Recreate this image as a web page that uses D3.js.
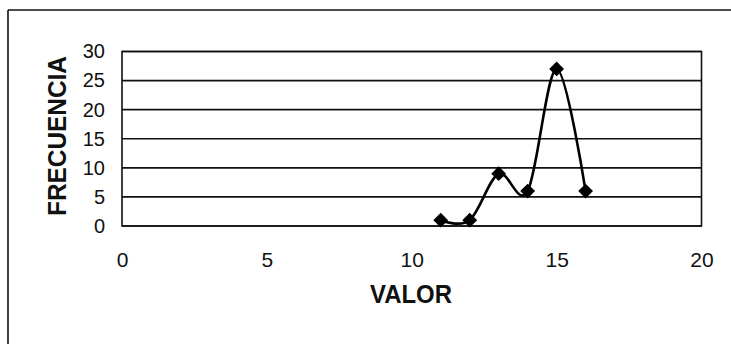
<!DOCTYPE html>
<html>
<head>
<meta charset="utf-8">
<script src="https://cdn.jsdelivr.net/npm/d3@7"></script>
<style>
  body { margin: 0; background: #fff; }
  svg { display: block; font-family: Arial, "Liberation Sans", sans-serif; }
</style>
</head>
<body>
<div id="chart-area"></div>
<script>

// Data
var valores = [11, 12, 13, 14, 15, 16];
var frecuencias = [1, 1, 9, 6, 27, 6];
var xTicks = [0, 5, 10, 15, 20];
var yTicks = [0, 5, 10, 15, 20, 25, 30];

// SVG Size
var width = 731,
		height = 344;

var svg = d3.select("#chart-area").append("svg")
		.attr("width", width)
		.attr("height", height);

// Outer frame (top and left edges only)
svg.append("line")
	.attr("x1", 8).attr("y1", 10).attr("x2", width).attr("y2", 10)
	.attr("stroke", "#111").attr("stroke-width", 1.6);
svg.append("line")
	.attr("x1", 8).attr("y1", 10).attr("x2", 8).attr("y2", height)
	.attr("stroke", "#111").attr("stroke-width", 1.6);

// Plot area
var plotLeft = 122, plotRight = 701.5, plotTop = 51.5, plotBottom = 226;

var x = d3.scaleLinear().domain([0, 20]).range([plotLeft, plotRight]);
var y = d3.scaleLinear().domain([0, 30]).range([plotBottom, plotTop]);

// Gridlines
svg.selectAll(".grid")
	.data(yTicks)
	.enter()
	.append("line")
	.attr("class", "grid")
	.attr("x1", plotLeft).attr("x2", plotRight)
	.attr("y1", function(d){ return y(d); })
	.attr("y2", function(d){ return y(d); })
	.attr("stroke", "#111")
	.attr("stroke-width", 1.6);

// Plot border
svg.append("rect")
	.attr("x", plotLeft).attr("y", plotTop)
	.attr("width", plotRight - plotLeft).attr("height", plotBottom - plotTop)
	.attr("fill", "none")
	.attr("stroke", "#111")
	.attr("stroke-width", 1.6);

// Y axis labels
var yAxis = d3.axisLeft(y).tickValues(yTicks).tickSize(0).tickPadding(17);
svg.append("g")
	.attr("transform", "translate(" + plotLeft + ",0)")
	.attr("font-size", 20)
	.attr("font-family", "Arial, 'Liberation Sans', sans-serif")
	.call(yAxis)
	.call(function(g){ g.select(".domain").remove(); })
	.selectAll("text")
	.attr("font-size", 20)
	.attr("fill", "#111");

// X axis labels
var xAxis = d3.axisBottom(x).tickValues(xTicks).tickSize(0).tickPadding(26);
svg.append("g")
	.attr("transform", "translate(0," + plotBottom + ")")
	.call(xAxis)
	.call(function(g){ g.select(".domain").remove(); })
	.selectAll("text")
	.attr("font-size", 21)
	.attr("font-family", "Arial, 'Liberation Sans', sans-serif")
	.attr("fill", "#111");

// Axis titles
svg.append("text")
	.attr("x", 411).attr("y", 303)
	.attr("text-anchor", "middle")
	.attr("font-size", 26)
	.attr("font-weight", "bold")
	.attr("textLength", 82)
	.attr("lengthAdjust", "spacingAndGlyphs")
	.attr("fill", "#111")
	.text("VALOR");

svg.append("text")
	.attr("transform", "translate(66,136) rotate(-90)")
	.attr("text-anchor", "middle")
	.attr("font-size", 26)
	.attr("font-weight", "bold")
	.attr("textLength", 160)
	.attr("lengthAdjust", "spacingAndGlyphs")
	.attr("fill", "#111")
	.text("FRECUENCIA");

// Smoothed line
var data = valores.map(function(v, i){ return { valor: v, frec: frecuencias[i] }; });

var line = d3.line()
	.x(function(d){ return x(d.valor); })
	.y(function(d){ return y(d.frec); })
	.curve(d3.curveCardinal.tension(0));

svg.append("path")
	.datum(data)
	.attr("d", line)
	.attr("fill", "none")
	.attr("stroke", "#000")
	.attr("stroke-width", 2.6);

// Diamond markers
svg.selectAll(".marker")
	.data(data)
	.enter()
	.append("path")
	.attr("class", "marker")
	.attr("d", d3.symbol(d3.symbolSquare, 110))
	.attr("transform", function(d){ return "translate(" + x(d.valor) + "," + y(d.frec) + ") rotate(45)"; })
	.attr("fill", "#000");

</script>
</body>
</html>
